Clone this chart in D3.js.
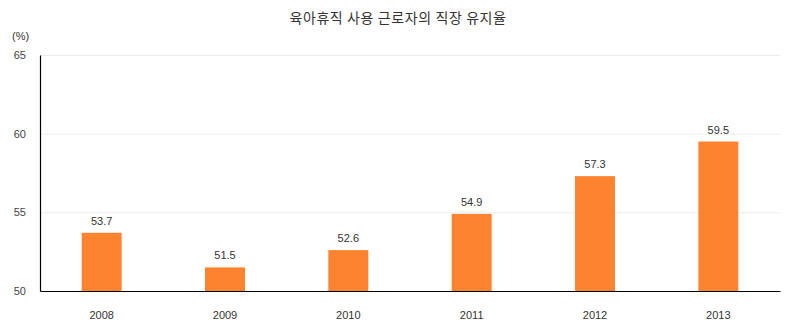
<!DOCTYPE html>
<html><head><meta charset="utf-8">
<script src="https://cdn.jsdelivr.net/npm/d3@7"></script>
<style>
body{margin:0;background:#fff;}
</style></head>
<body>
<svg id="c" width="792" height="327"></svg>
<script>
const years = ["2008","2009","2010","2011","2012","2013"];
const values = [53.7,51.5,52.6,54.9,57.3,59.5];
const yTicks = [50,55,60,65];
const title = "육아휴직 사용 근로자의 직장 유지율";
const unit = "(%)";

const numFont = "\"Liberation Sans\",Arial,sans-serif";
const krFont = "\"Noto Sans CJK KR\",\"Noto Sans\",sans-serif";
const svg = d3.select("#c");
const m = {l:40, r:12, t:55, b:36};
const W = 792, H = 327;
const x = d3.scaleBand().domain(years).range([m.l, W-m.r]).paddingInner(0.676).paddingOuter(0.338);
const y = d3.scaleLinear().domain([50,65]).range([H-m.b, m.t]);

// grid
svg.append("g").selectAll("line").data(yTicks.slice(1)).join("line")
  .attr("x1", m.l).attr("x2", W-m.r)
  .attr("y1", d=>y(d)+0.5).attr("y2", d=>y(d)+0.5)
  .attr("stroke","#ececec").attr("stroke-width",1);

// bars
svg.append("g").selectAll("rect").data(values).join("rect")
  .attr("x",(d,i)=>x(years[i])).attr("width",x.bandwidth())
  .attr("y",d=>y(d)).attr("height",d=>y(50)-y(d))
  .attr("fill","#fe8330");

// labels
svg.append("g").selectAll("text").data(values).join("text")
  .attr("x",(d,i)=>x(years[i])+x.bandwidth()/2).attr("y",d=>y(d)-8)
  .attr("text-anchor","middle").style("font-size","11px").attr("fill","#333")
  .style("font-family",numFont)
  .text(d=>d.toFixed(1));

// y axis
const ya = svg.append("g").attr("transform",`translate(${m.l},0)`)
  .call(d3.axisLeft(y).tickValues(yTicks).tickSize(0).tickPadding(14));
ya.select(".domain").attr("stroke","#000").attr("stroke-width",1.2);
ya.selectAll("text").style("font-size","11px").attr("fill","#444").style("font-family",numFont);

// x axis
const xa = svg.append("g").attr("transform",`translate(0,${H-m.b})`)
  .call(d3.axisBottom(x).tickSize(0).tickPadding(20));
xa.select(".domain").attr("stroke","#000").attr("stroke-width",1.2);
xa.selectAll("text").style("font-size","11px").attr("fill","#333").style("font-family",numFont);

svg.append("text").attr("x",398).attr("y",23).attr("text-anchor","middle")
  .style("font-size","14px").style("letter-spacing","0.6px").style("font-family",krFont).attr("fill","#333").text(title);
svg.append("text").attr("x",12).attr("y",40)
  .style("font-size","11px").style("font-family",numFont).attr("fill","#333").text(unit);
</script>
</body></html>
